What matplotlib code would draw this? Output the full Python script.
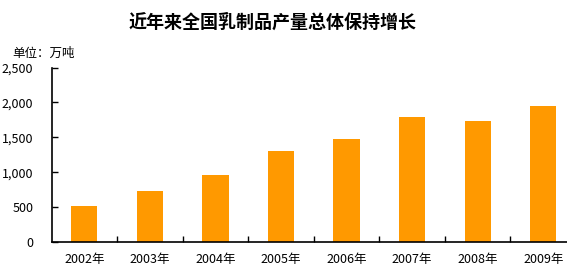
import matplotlib
matplotlib.use("Agg")
import matplotlib.pyplot as plt

plt.rcParams['font.family'] = ['Noto Sans CJK SC', 'DejaVu Sans']

years = ['2002年', '2003年', '2004年', '2005年', '2006年', '2007年', '2008年', '2009年']
values = [511, 729, 955, 1305, 1470, 1787, 1728, 1943]
yticks = [0, 500, 1000, 1500, 2000, 2500]
ytick_labels = ['0', '500', '1,000', '1,500', '2,000', '2,500']

fig = plt.figure(figsize=(5.67, 2.77), dpi=100)
W, H = 567, 277
left, right, top, bottom = 51.5, 576, 67.5, 242
ax = fig.add_axes([left / W, (H - bottom) / H, (right - left) / W, (bottom - top) / H])

x = list(range(len(years)))
ax.bar(x, values, width=0.4, color='#FF9900', zorder=2)
ax.set_xlim(-0.5, len(years) - 0.5)
ax.set_ylim(0, 2500)
ax.set_yticks(yticks)
ax.set_yticklabels(ytick_labels)
ax.set_xticks([i + 0.5 for i in x[:-1]], minor=False)
ax.set_xticklabels([])
ax.set_xticks(x, minor=True)
ax.set_xticklabels(years, minor=True)
ax.tick_params(axis='x', which='minor', length=0, pad=8, labelsize=9)
ax.tick_params(axis='x', which='major', direction='in', length=4, width=1)
ax.tick_params(axis='y', direction='in', length=4, width=1, pad=13, labelsize=9)

for s in ['top', 'right']:
    ax.spines[s].set_visible(False)
for s in ['left', 'bottom']:
    ax.spines[s].set_linewidth(1.2)
    ax.spines[s].set_color('black')

fig.text(273 / W, 1 - 22 / H, '近年来全国乳制品产量总体保持增长', ha='center', va='center',
         fontsize=13, fontweight='bold')
fig.text(12 / W, 1 - 53 / H, '单位：万吨', ha='left', va='center', fontsize=9)

fig.savefig('out.png', dpi=100)
